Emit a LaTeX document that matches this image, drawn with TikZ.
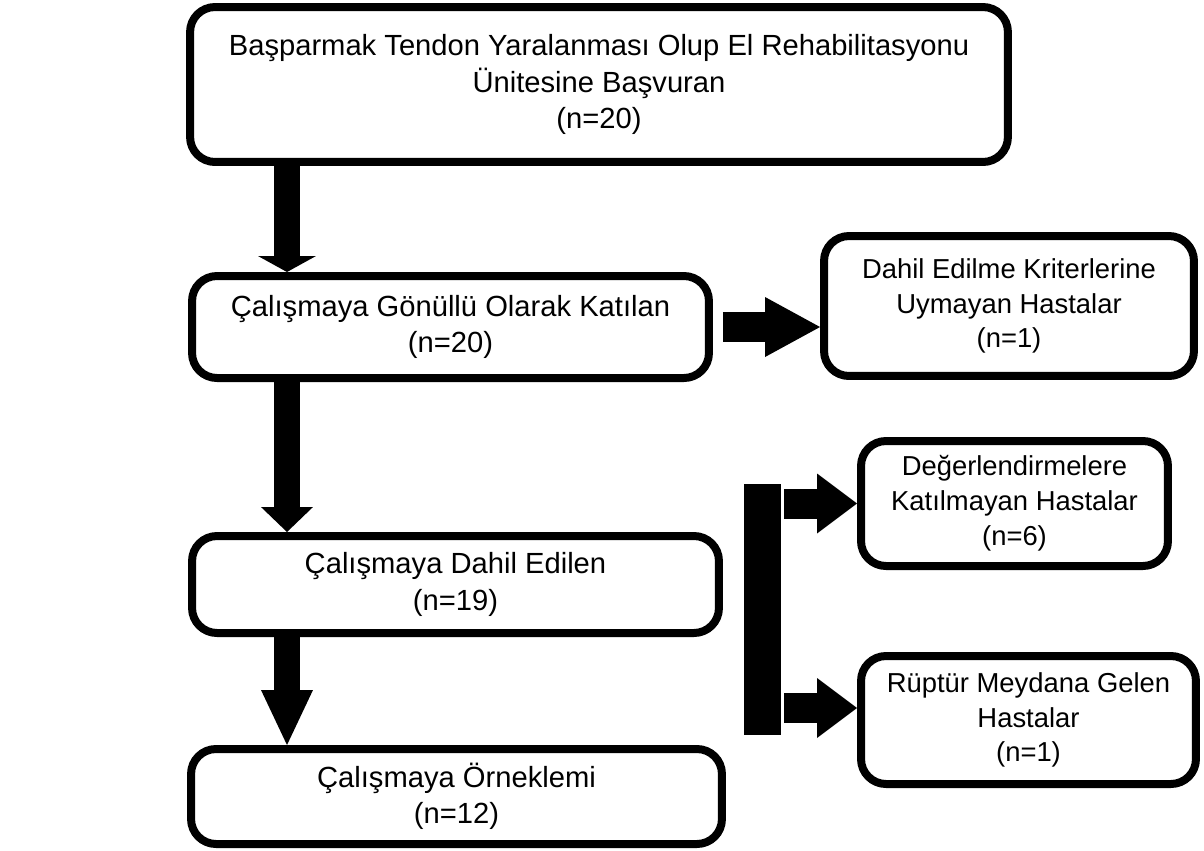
\documentclass[tikz,border=0pt]{standalone}
\usepackage{fontspec}
\setmainfont{Liberation Sans}
\usetikzlibrary{arrows.meta,calc}

\begin{document}
\begin{tikzpicture}[x=0.02cm,y=-0.02cm,
  box/.style={draw,line width=0.16cm,rounded corners=0.5cm,align=center,inner sep=0pt,
    font=\fontsize{16.6pt}{20.8pt}\selectfont},
  sidebox/.style={box,font=\fontsize{15.6pt}{19.8pt}\selectfont},
  downarrow/.style n args={2}{line width=0.52cm,-{Triangle[width=#1,length=#2,line width=0pt]}},
  rightarrow/.style={line width=0.6cm,-{Triangle[width=1.2cm,length=#1,line width=0pt]}}]
\useasboundingbox (0,0) rectangle (1204,850);

% main column
\node[box,minimum width=16.36cm,minimum height=3.1cm] (b1) at (599,84.5)
  {Başparmak Tendon Yaralanması Olup El Rehabilitasyonu\\Ünitesine Başvuran\\(n=20)};
\node[box,minimum width=10.34cm,minimum height=2.04cm] (b2) at (450.5,327)
  {Çalışmaya Gönüllü Olarak Katılan\\(n=20)};
\node[box,minimum width=10.54cm,minimum height=1.94cm] (b4) at (455.5,584.5)
  {Çalışmaya Dahil Edilen\\(n=19)};
\node[box,minimum width=10.62cm,minimum height=1.9cm] (b5) at (456.5,796.5)
  {Çalışmaya Örneklemi\\(n=12)};

% side boxes
\node[sidebox,minimum width=7.4cm,minimum height=2.8cm] (b3) at (1009,306)
  {Dahil Edilme Kriterlerine\\Uymayan Hastalar\\(n=1)};
\node[sidebox,minimum width=6.14cm,minimum height=2.5cm] (b6) at (1014.5,503.5)
  {Değerlendirmelere\\Katılmayan Hastalar\\(n=6)};
\node[sidebox,minimum width=6.7cm,minimum height=2.56cm] (b7) at (1028.5,720)
  {Rüptür Meydana Gelen\\Hastalar\\(n=1)};

% bar
\node[fill,inner sep=0pt,minimum width=0.74cm,minimum height=5.02cm] (bar) at (762.5,609.5) {};

% arrows
\coordinate (ax) at (287,0);
\draw[downarrow={1.16cm}{0.32cm}] (ax |- b1.south) -- (ax |- b2.north);
\draw[downarrow={1.04cm}{0.5cm}] (ax |- b2.south) -- (ax |- b4.north);
\draw[downarrow={1.04cm}{1.1cm}] (ax |- b4.south) -- (ax |- b5.north);
\draw[rightarrow=1.1cm] ($(b2.east)+(10,0)$) -- (b2.east -| b3.west);
\draw[rightarrow=0.8cm] ($(bar.east |- b6.west)+(3,0)$) -- (b6.west);
\draw[rightarrow=0.8cm] ($(bar.east |- b7.west)+(3,-12)$) -- ($(b7.west)+(0,-12)$);

\end{tikzpicture}
\end{document}
